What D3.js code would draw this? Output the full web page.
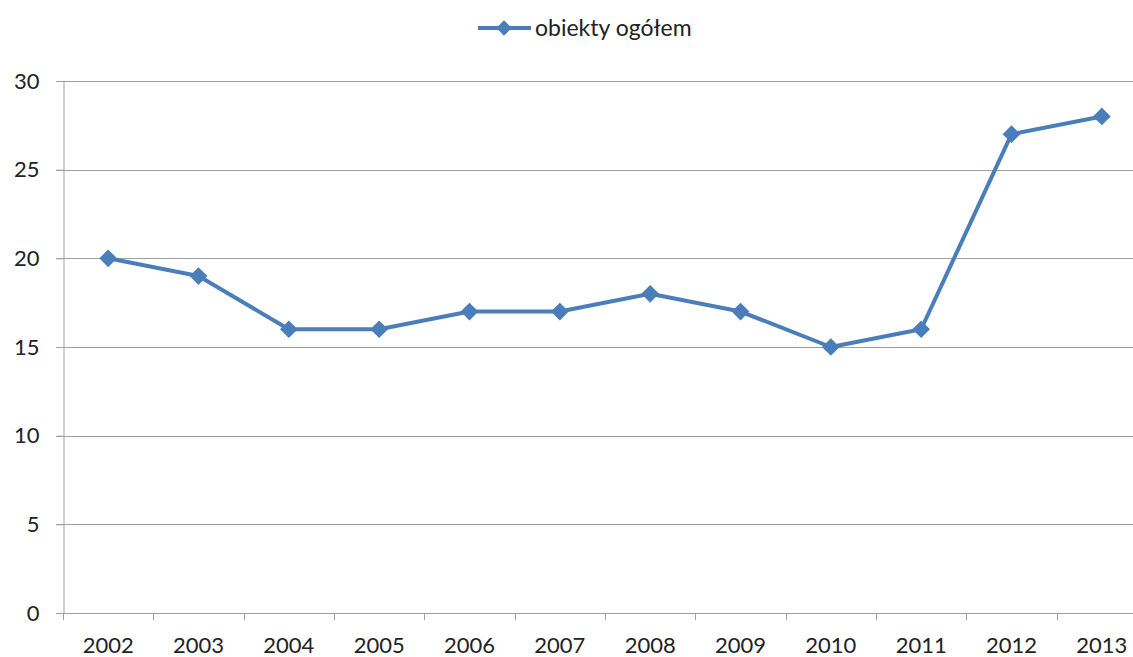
<!DOCTYPE html>
<html>
<head>
<meta charset="utf-8">
<script src="https://d3js.org/d3.v7.min.js"></script>
<style>
  body { margin: 0; background: #fff; }
  svg { display: block; font-family: Lato, "Open Sans", sans-serif; }
</style>
</head>
<body>
<div id="chart"></div>
<script>
var years = ["2002", "2003", "2004", "2005", "2006", "2007", "2008", "2009", "2010", "2011", "2012", "2013"];
var values = [20, 19, 16, 16, 17, 17, 18, 17, 15, 16, 27, 28];
var yTicks = [0, 5, 10, 15, 20, 25, 30];
var seriesName = "obiekty ogółem";

var width = 1133, height = 657;
var plotLeft = 63, plotRight = 1147, plotTop = 81, plotBottom = 613;
var blue = "#4a7ebb", grid = "#a0a0a0";

var svg = d3.select("#chart").append("svg").attr("width", width).attr("height", height);

var x = d3.scaleBand().domain(years).range([plotLeft, plotRight]);
var y = d3.scaleLinear().domain([0, 30]).range([plotBottom, plotTop]);

// gridlines
svg.append("g").selectAll("line").data(yTicks.filter(function(d){ return d > 0; })).enter().append("line")
  .attr("x1", plotLeft - 7).attr("x2", plotRight)
  .attr("y1", function(d){ return Math.round(y(d)) + 0.5; })
  .attr("y2", function(d){ return Math.round(y(d)) + 0.5; })
  .attr("stroke", grid).attr("stroke-width", 1);

// y axis
var yAxis = svg.append("g").attr("transform", "translate(" + (plotLeft + 0.5) + ",0)")
  .call(d3.axisLeft(y).tickValues(yTicks).tickSize(7).tickPadding(17));
yAxis.select(".domain").attr("stroke", grid);
yAxis.selectAll(".tick line").attr("stroke", grid);
yAxis.selectAll("text").attr("font-size", 22).attr("fill", "#222").attr("font-family", "Lato, sans-serif");

// x axis
var xTickPos = years.map(function(d){ return x(d); }).concat([plotRight]);
var xg = svg.append("g");
xg.append("line").attr("x1", plotLeft - 7).attr("x2", plotRight)
  .attr("y1", plotBottom + 0.5).attr("y2", plotBottom + 0.5).attr("stroke", grid);
xg.selectAll("line.tk").data(xTickPos).enter().append("line").attr("class", "tk")
  .attr("x1", function(d){ return Math.round(d) + 0.5; }).attr("x2", function(d){ return Math.round(d) + 0.5; })
  .attr("y1", plotBottom).attr("y2", plotBottom + 7).attr("stroke", grid);
xg.selectAll("text").data(years).enter().append("text")
  .attr("x", function(d){ return x(d) + x.bandwidth() / 2; })
  .attr("y", 653).attr("text-anchor", "middle")
  .attr("font-size", 22).attr("fill", "#222").text(function(d){ return d; });

// line
var line = d3.line()
  .x(function(d, i){ return x(years[i]) + x.bandwidth() / 2; })
  .y(function(d){ return y(d); });
svg.append("path").datum(values).attr("d", line)
  .attr("fill", "none").attr("stroke", blue).attr("stroke-width", 4).attr("stroke-linejoin", "round");

var diamond = d3.symbol().type(d3.symbolDiamond2).size(200);
svg.append("g").selectAll("path").data(values).enter().append("path")
  .attr("d", diamond)
  .attr("transform", function(d, i){ return "translate(" + (x(years[i]) + x.bandwidth() / 2) + "," + y(d) + ")"; })
  .attr("fill", blue);

// legend
var lg = svg.append("g");
lg.append("line").attr("x1", 478).attr("x2", 531).attr("y1", 28).attr("y2", 28)
  .attr("stroke", blue).attr("stroke-width", 4);
lg.append("path").attr("d", d3.symbol().type(d3.symbolDiamond2).size(150)).attr("transform", "translate(504,28)").attr("fill", blue);
lg.append("text").attr("x", 535).attr("y", 36).attr("font-size", 23).attr("fill", "#222").text(seriesName);
</script>
</body>
</html>
